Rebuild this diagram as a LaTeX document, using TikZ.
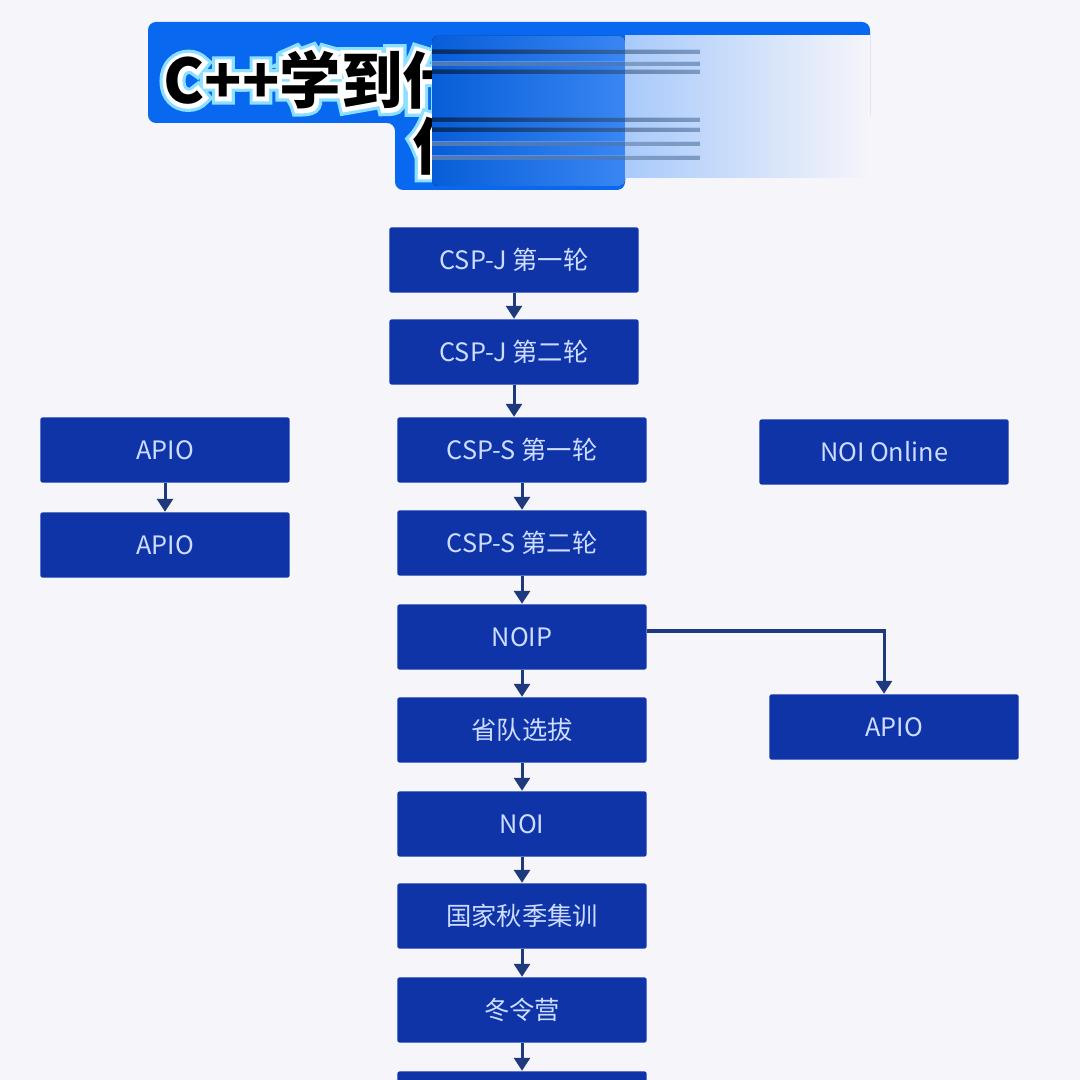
\documentclass[tikz,border=0pt]{standalone}
\usepackage{fontspec}
\setmainfont{Noto Sans CJK SC}
\newfontfamily\titlefont{Noto Sans CJK SC}
\usetikzlibrary{arrows.meta,positioning}
\definecolor{paper}{RGB}{246,245,250}
\definecolor{stagefill}{RGB}{14,52,168}
\definecolor{stagetext}{RGB}{205,220,255}
\definecolor{flowline}{RGB}{30,58,125}
\definecolor{bannerblue}{RGB}{8,104,240}
% stroked text for the title outline
\newcommand\outlined[3]{\special{pdf:literal direct 2 Tr #1 w #2 RG}#3\special{pdf:literal direct 0 Tr 1 w}}
\tikzset{
  stage/.style={fill=stagefill,text=stagetext,minimum width=2.49cm,minimum height=0.65cm,
    inner sep=0pt,rounded corners=0.02cm,font=\fontsize{7.2}{8}\selectfont},
  flow/.style={draw=flowline,line width=0.03cm,-{Triangle[width=0.16cm,length=0.13cm]}},
  titletext/.style={anchor=west,inner sep=0pt,font=\titlefont\bfseries\fontsize{17.5}{20}\selectfont},
}
\begin{document}
\begin{tikzpicture}[x=0.01cm,y=-0.01cm]
 \useasboundingbox (0,0) rectangle (1080,1080);
 \clip (0,0) rectangle (1080,1080);
 \fill[paper] (0,0) rectangle (1080,1080);
 % banner
 \fill[bannerblue,rounded corners=0.08cm] (148,22) -- (870,22) -- (870,123) -- (625,123)
   -- (625,190) -- (395,190) -- (395,123) -- (148,123) -- cycle;
 \node[titletext,text=white] (titleglow) at (163,80) {\outlined{4.2}{0.55 0.88 1}{C++学到什}};
 \node[titletext,text=white] (titleline) at (163,80) {\outlined{2.4}{1 1 1}{C++学到什}};
 \node[titletext,text=black] (title) at (163,80) {C++学到什};
 \node[titletext,text=white] (titleglow2) at (412,146) {\outlined{4.2}{0.55 0.88 1}{什}};
 \node[titletext,text=white] (titleline2) at (412,146) {\outlined{2.4}{1 1 1}{什}};
 \node[titletext,text=black] (title2) at (412,146) {什};
 % blurred part
 \fill[left color=bannerblue!90!black,right color=bannerblue!80!white,rounded corners=0.06cm]
   (432,36) -- (625,36) -- (625,186) -- (432,186) -- cycle;
 \fill[left color=bannerblue!35!white,right color=paper] (625,36) rectangle (870,178);
 \foreach \y/\c in {50/black,70/black,118/black,128/black,142/white,156/white,62/white} {
  \fill[left color=\c,right color=bannerblue!60!white,opacity=0.3] (432,\y) rectangle (700,\y+4);
 }
 % main chain
 \node[stage] (jone) at (514,260) {CSP-J 第一轮};
 \node[stage] (jtwo) at (514,352) {CSP-J 第二轮};
 \node[stage] (sone) at (522,450) {CSP-S 第一轮};
 \node[stage] (stwo) at (522,543) {CSP-S 第二轮};
 \node[stage] (noip) at (522,637) {NOIP};
 \node[stage] (sheng) at (522,730) {省队选拔};
 \node[stage] (noi) at (522,824) {NOI};
 \node[stage] (qiuji) at (522,916) {国家秋季集训};
 \node[stage] (dong) at (522,1010) {冬令营};
 \node[stage] (next) at (522,1104) {};
 % side boxes
 \node[stage] (apioa) at (165,450) {APIO};
 \node[stage] (apiob) at (165,545) {APIO};
 \node[stage] (online) at (884,452) {NOI Online};
 \node[stage] (apioc) at (894,727) {APIO};
 % arrows
 \draw[flow] (jone) -- (jtwo);
 \draw[flow] (jtwo.south) -- (jtwo.south |- sone.north);
 \draw[flow] (sone) -- (stwo);
 \draw[flow] (stwo) -- (noip);
 \draw[flow] (noip) -- (sheng);
 \draw[flow] (sheng) -- (noi);
 \draw[flow] (noi) -- (qiuji);
 \draw[flow] (qiuji) -- (dong);
 \draw[flow] (dong) -- (next);
 \draw[flow] (apioa) -- (apiob);
 \draw[flow] ([yshift=0.06cm]noip.east) -| ([xshift=-0.1cm]apioc.north);
\end{tikzpicture}
\end{document}
